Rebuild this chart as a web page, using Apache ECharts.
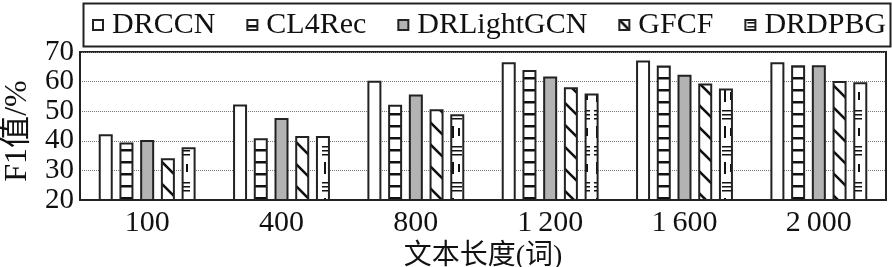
<!DOCTYPE html>
<html><head><meta charset="utf-8">
<script src="https://cdn.jsdelivr.net/npm/echarts@6/dist/echarts.min.js"></script>
<style>html,body{margin:0;padding:0;background:#fff}#c{width:892px;height:267px}</style>
</head><body><div id="c"></div>
<script>
const categories = ['100', '400', '800', '1\u2009200', '1\u2009600', '2\u2009000'];
const seriesNames = ['DRCCN', 'CL4Rec', 'DRLightGCN', 'GFCF', 'DRDPBG'];
const DRCCN = [42.2, 52.3, 60.3, 66.5, 67.1, 66.5];
const CL4Rec = [39.4, 40.9, 52.2, 63.9, 65.4, 65.5];
const DRLightGCN = [40.3, 47.7, 55.6, 61.7, 62.3, 65.5];
const GFCF = [34.1, 41.6, 50.7, 58.1, 59.4, 60.2];
const DRDPBG = [37.8, 41.6, 49.0, 56.0, 57.7, 59.8];
const yMin = 20, yMax = 70, yStep = 10;

function tile(w, h, draw) {
  const c = document.createElement('canvas');
  c.width = w; c.height = h;
  const g = c.getContext('2d');
  g.fillStyle = '#fff'; g.fillRect(0, 0, w, h);
  g.fillStyle = '#111'; g.strokeStyle = '#111';
  draw(g);
  return { image: c, repeat: 'repeat' };
}
const hPattern = tile(16, 12, g => { g.fillRect(0, 5, 16, 2.5); });
const dPattern = tile(22, 22, g => {
  g.lineWidth = 2.6;
  g.beginPath();
  g.moveTo(-2, -2); g.lineTo(24, 24);
  g.moveTo(-13, 9); g.lineTo(13, 35);
  g.moveTo(9, -13); g.lineTo(35, 13);
  g.stroke();
});
const mPattern = tile(16, 36, g => {
  g.fillRect(2, 2, 12, 1.5);
  g.fillRect(2, 6, 12, 1.5);
  g.fillRect(2, 10, 12, 1.5);
  g.fillRect(4, 18, 2, 12);
  g.fillRect(10, 20, 2, 8);
});
const fills = ['#ffffff', hPattern, '#b3b3b3', dPattern, mPattern];
const dataArr = [DRCCN, CL4Rec, DRLightGCN, GFCF, DRDPBG];

const font = '"Liberation Serif", "Noto Sans CJK SC", serif';
const labelStyle = { fontFamily: font, fontSize: 29, color: '#111', margin: 6 };
const chart = echarts.init(document.getElementById('c'), null, { renderer: 'canvas' });
chart.setOption({
  animation: false,
  textStyle: { fontFamily: font },
  graphic: [{
    type: 'rect', left: 81, top: 1, shape: { width: 807, height: 43 },
    style: { fill: 'none', stroke: '#222', lineWidth: 2 }
  }],
  legend: {
    left: 87, top: 5, width: 830, itemWidth: 10, itemHeight: 10, itemGap: 31,
    icon: 'rect',
    textStyle: { fontFamily: font, fontSize: 30, color: '#111', padding: [0, 0, 0, 4] },
    data: seriesNames
  },
  grid: {
    left: 80, right: 6, top: 52, bottom: 67, show: true, containLabel: false,
    outerBoundsMode: 'none',
    borderColor: '#222', borderWidth: 2, backgroundColor: 'transparent'
  },
  xAxis: {
    type: 'category', data: categories,
    axisLine: { lineStyle: { color: '#222', width: 2 } },
    axisTick: { show: false },
    axisLabel: { fontFamily: font, fontSize: 30, color: '#111', margin: 8 },
    name: '文本长度(词)', nameLocation: 'middle', nameGap: 31,
    nameTextStyle: { fontFamily: font, fontSize: 28, color: '#111' }
  },
  yAxis: [{
    type: 'value', min: yMin, max: yMax, interval: yStep,
    axisLine: { show: true, lineStyle: { color: '#222', width: 2 } },
    axisTick: { show: false },
    axisLabel: Object.assign({ showMinLabel: false, showMaxLabel: false }, labelStyle),
    splitLine: { lineStyle: { type: 'dotted', color: '#777', width: 1 } },
    name: 'F1值/%', nameLocation: 'middle', nameGap: 46, nameRotate: 90,
    nameTextStyle: { fontFamily: font, fontSize: 32, color: '#111', padding: [0, 0, 0, -10] }
  }, {
    type: 'value', position: 'left', min: yMin, max: yMax, interval: yMax - yMin,
    axisLine: { show: false }, axisTick: { show: false }, splitLine: { show: false },
    axisLabel: Object.assign({ showMinLabel: true, showMaxLabel: true }, labelStyle)
  }],
  series: seriesNames.map((n, i) => ({
    name: n, type: 'bar', data: dataArr[i], barWidth: 14, barGap: '48%',
    itemStyle: { color: fills[i], borderColor: '#222', borderWidth: 2 }
  }))
});
</script></body></html>
